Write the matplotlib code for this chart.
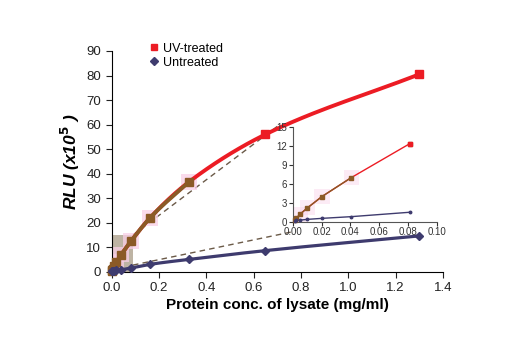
import numpy as np
import matplotlib
matplotlib.use("Agg")
import matplotlib.pyplot as plt
from matplotlib.patches import Rectangle
from matplotlib.lines import Line2D

plt.rcParams['font.family'] = ['Liberation Sans', 'DejaVu Sans']

# protein concentration (mg/ml), two-fold dilution series
conc = [0.0013, 0.0025, 0.0051, 0.0102, 0.0203, 0.0406, 0.08125, 0.1625, 0.325, 0.65, 1.3]
uv_treated = [0.3, 0.55, 1.2, 2.2, 4.0, 7.0, 12.4, 22.0, 36.5, 56.0, 80.5]
untreated = [0.15, 0.2, 0.25, 0.37, 0.53, 0.8, 1.5, 3.0, 5.0, 8.6, 14.6]

xticks_main = [0.0, 0.2, 0.4, 0.6, 0.8, 1.0, 1.2, 1.4]
yticks_main = list(range(0, 100, 10))
xticks_inset = [0.0, 0.02, 0.04, 0.06, 0.08, 0.10]
yticks_inset = [0, 3, 6, 9, 12, 15]

RED = '#ec1c24'
BROWN = '#8b5a26'
NAVY = '#3e3b6e'
PINK = '#f9cfe6'


def smooth(x, y, n=30):
    # monotone cubic (PCHIP) curve through the points, no overshoot
    x = np.asarray(x, float)
    y = np.asarray(y, float)
    h = np.diff(x)
    d = np.diff(y) / h
    m = np.zeros_like(y)
    m[0], m[-1] = d[0], d[-1]
    for k in range(1, len(x) - 1):
        if d[k - 1] * d[k] > 0:
            w1 = 2 * h[k] + h[k - 1]
            w2 = h[k] + 2 * h[k - 1]
            m[k] = (w1 + w2) / (w1 / d[k - 1] + w2 / d[k])
    xs, ys = [], []
    t = np.linspace(0, 1, n)
    for k in range(len(x) - 1):
        h00 = 2 * t**3 - 3 * t**2 + 1
        h10 = t**3 - 2 * t**2 + t
        h01 = -2 * t**3 + 3 * t**2
        h11 = t**3 - t**2
        xs.extend(x[k] + t * h[k])
        ys.extend(h00 * y[k] + h10 * h[k] * m[k] + h01 * y[k + 1] + h11 * h[k] * m[k + 1])
    return np.array(xs), np.array(ys)


fig = plt.figure(figsize=(5.2, 3.5), dpi=100)
ax = fig.add_axes([0.2148, 0.2237, 0.637, 0.6306])

c = np.array(conc)
uv = np.array(uv_treated)
un = np.array(untreated)
low = c <= 0.33

# zoom box and connector lines
ax.add_patch(Rectangle((0, 0), 0.09, 15, facecolor='#b3a794', alpha=0.85,
                       edgecolor='none', zorder=1))
ax.plot([0.09, 0.71], [15, 60], ls=(0, (4, 3)), color='#6b5a48', lw=1, zorder=2)
ax.plot([0.09, 0.76], [2.7, 16.2], ls=(0, (4, 3)), color='#6b5a48', lw=1, zorder=2)

# pink halo behind the low-concentration points
ax.scatter(c[low & (c > 0.01)], uv[low & (c > 0.01)], marker='s', s=130,
           color=PINK, alpha=0.75, edgecolors='none', zorder=2)

sx, sy = smooth(c, uv)
ax.plot(sx, sy, color=RED, lw=2.8, zorder=3)
bx, by = smooth(c[low], uv[low])
ax.plot(bx, by, color=BROWN, lw=2.8, zorder=4)
ax.plot(c[~low], uv[~low], 's', color=RED, ms=6, zorder=5, clip_on=False)
ax.plot(c[low], uv[low], 's', color=BROWN, ms=6, zorder=5, clip_on=False)

ux, uy = smooth(c, un)
ax.plot(ux, uy, color=NAVY, lw=2.3, zorder=3)
ax.plot(c, un, 'D', color=NAVY, ms=4.5, zorder=5, clip_on=False)

ax.set_xlim(0, 1.4)
ax.set_ylim(0, 90)
ax.set_xticks(xticks_main)
ax.set_yticks(yticks_main)
ax.set_xticklabels([f'{v:.1f}' for v in xticks_main])
for s in ('top', 'right'):
    ax.spines[s].set_visible(False)
ax.tick_params(labelsize=9.5, length=4, direction='out', colors='#222222')
ax.set_xlabel('Protein conc. of lysate (mg/ml)', fontsize=11, fontweight='bold',
              labelpad=3)
ax.set_ylabel(r'RLU (x10$^{\mathbf{5}}$ )', fontsize=12.5, fontweight='bold',
              fontstyle='italic', labelpad=3)

handles = [Line2D([], [], ls='none', marker='s', color=RED, ms=5),
           Line2D([], [], ls='none', marker='D', color=NAVY, ms=4)]
fig.legend(handles, ['UV-treated', 'Untreated'], loc='upper left',
           bbox_to_anchor=(0.268, 0.91), frameon=False, fontsize=9,
           handlelength=0.6, handletextpad=0.4, labelspacing=0.15)

# inset: low-concentration range
ins = fig.add_axes([0.563, 0.3666, 0.277, 0.2697])
ins.patch.set_alpha(0)
inl = c <= 0.09
mid = c <= 0.041
ins.scatter(c[(c > 0.005) & mid], uv[(c > 0.005) & mid], marker='s', s=120,
            color=PINK, alpha=0.4, edgecolors='none', zorder=1)
ins.plot(c[inl], uv[inl], color=RED, lw=1, zorder=2)
ins.plot(c[mid], uv[mid], color=BROWN, lw=1, zorder=3)
ins.plot(c[inl], uv[inl], 's', color=BROWN, ms=2.2, zorder=4, clip_on=False)
ins.plot(c[inl][-1], uv[inl][-1], 's', color=RED, ms=2.5, zorder=4)
ins.plot(c[inl], un[inl], color=NAVY, lw=1, zorder=2)
ins.plot(c[inl], un[inl], 'o', color=NAVY, ms=1.8, zorder=4, clip_on=False)
ins.set_xlim(0, 0.1)
ins.set_ylim(0, 15)
ins.set_xticks(xticks_inset)
ins.set_yticks(yticks_inset)
ins.set_xticklabels([f'{v:.2f}' for v in xticks_inset])
for s in ('top', 'right'):
    ins.spines[s].set_visible(False)
for s in ('left', 'bottom'):
    ins.spines[s].set_color('#555555')
    ins.spines[s].set_linewidth(0.8)
ins.tick_params(labelsize=7, length=3, pad=1, colors='#333333')

fig.savefig('out.png', dpi=100)
